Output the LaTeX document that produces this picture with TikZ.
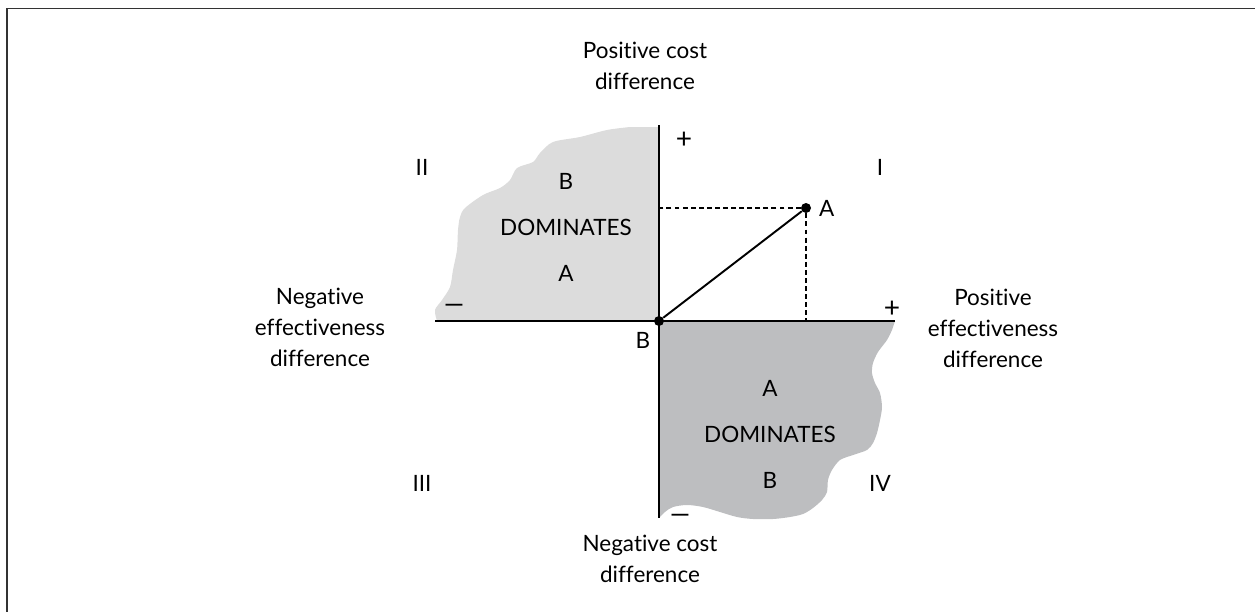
\documentclass[tikz,border=0pt]{standalone}
\usepackage{fontspec}
\setmainfont{Lato}[Ligatures={NoCommon,NoRare}]
\usepackage{xcolor}
\usepackage{graphicx}
\usetikzlibrary{arrows.meta, positioning, calc}
\definecolor{lightdom}{HTML}{DCDCDC}
\definecolor{darkdom}{HTML}{BDBEC0}
\begin{document}
\begin{tikzpicture}[
    x=0.02cm, y=-0.02cm,
    lbl/.style={font=\fontsize{12.8}{17.6}\selectfont, align=center, inner sep=0pt},
    sign/.style={font=\fontsize{16}{16}\selectfont, inner sep=0pt},
    axisline/.style={line width=1.4pt},
    guide/.style={line width=0.6pt, dash pattern=on 2.8pt off 1.8pt},
    dot/.style={circle, fill=black, inner sep=0pt, minimum size=0.2cm},
    >=Stealth
]
    \useasboundingbox (0,0) rectangle (1255,612);
    % Frame
    \draw[line width=1.1pt, black!80] (7,612) -- (7,8.5) -- (1255,8.5);

    % Dominance regions
    \fill[lightdom] (659,321) -- (659,127) -- plot[smooth, tension=0.5] coordinates {
        (630,127) (607,130) (580,137) (553,142) (540,153) (533,162) (517,168)
        (510,180) (500,188) (483,195) (465,208) (460,217) (458,230) (457,250)
        (453,270) (450,287) (442,300) (435,310) (437,321)} -- cycle;
    \fill[darkdom] (659,321) -- (895,321) -- plot[smooth, tension=0.5] coordinates {
        (892,330) (887,340) (878,352) (873,363) (872,373) (875,383) (880,393)
        (882,407) (880,420) (877,433) (873,443) (867,450) (853,455) (840,460)
        (832,470) (828,480) (827,492) (822,500) (813,508) (803,514) (790,517)
        (773,519) (753,519) (737,517) (720,512) (703,507) (687,505) (673,507)
        (665,512) (659,518)} -- cycle;

    % Axes
    \coordinate (ytop) at (659,125);
    \coordinate (ybot) at (659,518);
    \coordinate (xleft) at (435,321);
    \coordinate (xright) at (895,321);
    \draw[axisline] (ytop) -- (ybot);
    \draw[axisline] (xleft) -- (xright);

    % Points
    \node[dot] (B) at (659,321) {};
    \node[dot] (A) at (806,208) {};
    \coordinate (Ax) at (806,321);
    \coordinate (Ay) at (659,208);
    \draw[guide] (A) -- (Ay);
    \draw[guide] (A) -- (Ax);
    \draw[line width=1.1pt] (B) -- (A);
    \node[lbl, right=0.15cm of A] (Alabel) {A};
    \node[lbl] (Blabel) at (643,340) {B};

    % Signs
    \node[sign] (plusy) at (684,140) {+};
    \node[sign] (plusx) at (892,309) {+};
    \node[sign] (minusx) at (454,309) {\scalebox{1.5}[1]{--}};
    \node[sign] (minusy) at (680,519) {\scalebox{1.5}[1]{--}};

    % Axis labels
    \node[lbl] (costpos) at (645,66) {Positive cost\\difference};
    \node[lbl] (costneg) at (650,559) {Negative cost\\difference};
    \node[lbl] (effneg) at (320,327) {Negative\\effectiveness\\difference};
    \node[lbl] (effpos) at (993,328) {Positive\\effectiveness\\difference};

    % Quadrants
    \node[lbl] (qI) at (880,167) {I};
    \node[lbl] (qII) at (422,167) {II};
    \node[lbl] (qIII) at (422,483) {III};
    \node[lbl] (qIV) at (880,483) {IV};

    % Region texts
    \node[lbl] (domII) at (566,227) {DOMINATES};
    \node[lbl, above=0.92cm of domII.center, anchor=center] {B};
    \node[lbl, below=0.92cm of domII.center, anchor=center] {A};
    \node[lbl] (domIV) at (770,434) {DOMINATES};
    \node[lbl, above=0.92cm of domIV.center, anchor=center] {A};
    \node[lbl, below=0.92cm of domIV.center, anchor=center] {B};
\end{tikzpicture}
\end{document}
